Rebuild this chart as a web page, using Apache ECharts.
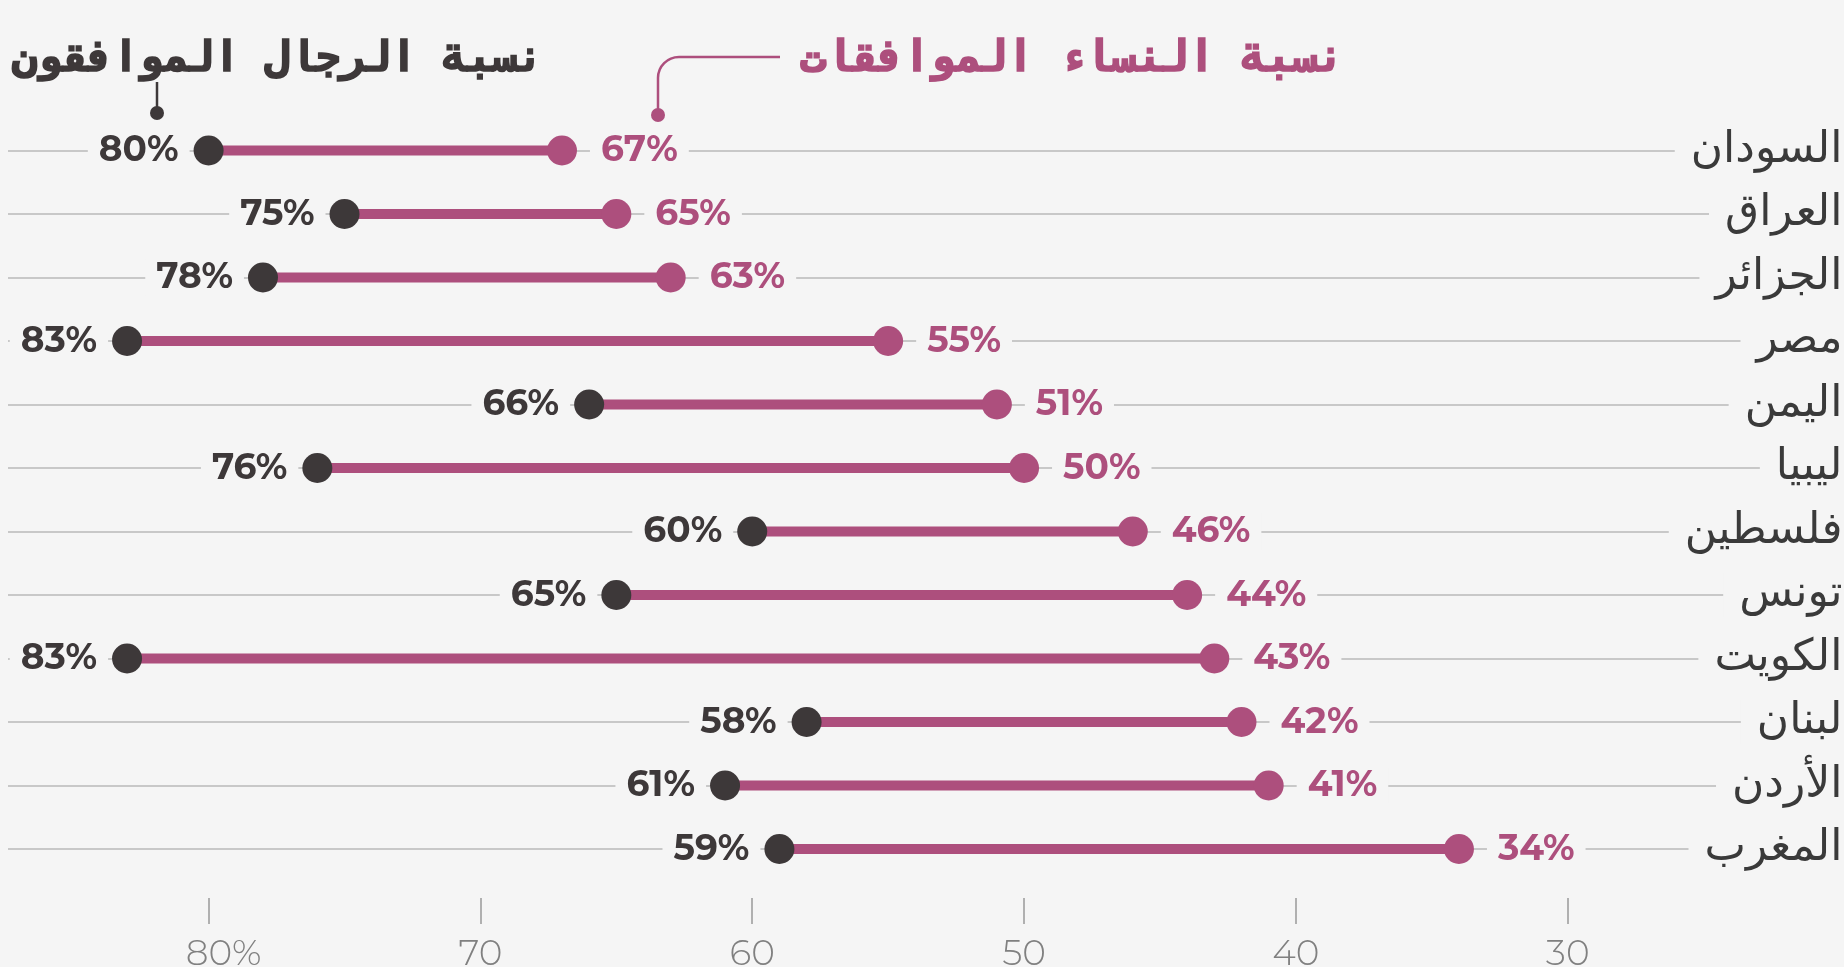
<!DOCTYPE html>
<html>
<head>
<meta charset="utf-8">
<script src="https://cdn.jsdelivr.net/npm/echarts@6/dist/echarts.min.js"></script>
<style>
  html, body { margin: 0; padding: 0; background: #f5f5f5; }
  #chart { width: 1844px; height: 967px; }
</style>
</head>
<body>
<div id="chart"></div>
<script>
// البيانات
const countries = ['السودان', 'العراق', 'الجزائر', 'مصر', 'اليمن', 'ليبيا', 'فلسطين', 'تونس', 'الكويت', 'لبنان', 'الأردن', 'المغرب'];
const menValues = [80, 75, 78, 83, 66, 76, 60, 65, 83, 58, 61, 59];
const womenValues = [67, 65, 63, 55, 51, 50, 46, 44, 43, 42, 41, 34];
const xTicks = [80, 70, 60, 50, 40, 30];
const menTitle = 'نسبة الرجال الموافقون';
const womenTitle = 'نسبة النساء الموافقات';

const PINK = '#ad4f7d';
const DARK = '#3d3839';
const BG = '#f5f5f5';
const numFont = 'Montserrat, "DejaVu Sans", sans-serif';
const titleFont = '"DejaVu Sans Mono", "DejaVu Sans", monospace';

let myChart = echarts.init(document.getElementById('chart'));

myChart.setOption({
  backgroundColor: BG,
  animation: false,
  grid: {
    left: 8,
    right: 4.5,
    top: 150.5,
    bottom: 118,
    outerBoundsMode: 'none'
  },
  xAxis: {
    type: 'value',
    inverse: true,
    min: 20,
    max: 87.38,
    offset: 49,
    axisLine: { show: false },
    splitLine: { show: false },
    axisTick: {
      show: true,
      customValues: xTicks,
      length: 26,
      lineStyle: { color: '#999', width: 1.5 }
    },
    axisLabel: {
      customValues: xTicks,
      margin: 38,
      color: '#808080',
      fontSize: 36,
      fontWeight: 300,
      fontFamily: numFont,
      formatter: v => (v === 80 ? '{p|80%}' : String(v)),
      rich: {
        p: {
          padding: [0, 0, 0, 30],
          color: '#808080',
          fontSize: 36,
          fontWeight: 300,
          fontFamily: numFont
        }
      }
    }
  },
  yAxis: {
    type: 'category',
    data: countries,
    inverse: true,
    boundaryGap: false,
    position: 'right',
    axisLine: { show: false },
    axisTick: { show: false },
    splitLine: {
      show: true,
      interval: 0,
      lineStyle: { color: '#c8c8c8', width: 2 }
    },
    axisLabel: {
      inside: true,
      interval: 0,
      margin: -3,
      color: '#3a3a3a',
      fontSize: 44,
      fontFamily: '"DejaVu Sans", sans-serif',
      backgroundColor: BG,
      padding: [0, 0, 0, 16]
    }
  },
  series: [
    {
      name: 'الفرق',
      type: 'custom',
      silent: true,
      z: 2,
      encode: { x: [0, 1], y: 2 },
      data: countries.map((c, i) => [womenValues[i], menValues[i], i]),
      renderItem: function (params, api) {
        const p1 = api.coord([api.value(0), api.value(2)]);
        const p2 = api.coord([api.value(1), api.value(2)]);
        return {
          type: 'line',
          shape: { x1: p1[0], y1: p1[1], x2: p2[0], y2: p2[1] },
          style: { stroke: PINK, lineWidth: 10 }
        };
      }
    },
    {
      name: 'نسبة النساء الموافقات',
      type: 'scatter',
      silent: true,
      z: 3,
      symbolSize: 30,
      itemStyle: { color: PINK, opacity: 1 },
      data: countries.map((c, i) => [womenValues[i], c]),
      label: {
        show: true,
        position: 'right',
        distance: 13,
        formatter: p => p.value[0] + '%',
        color: PINK,
        fontSize: 36,
        fontWeight: 'bold',
        fontFamily: numFont,
        backgroundColor: BG,
        padding: [0, 11]
      }
    },
    {
      name: 'نسبة الرجال الموافقون',
      type: 'scatter',
      silent: true,
      z: 4,
      symbolSize: 30,
      itemStyle: { color: DARK, opacity: 1 },
      data: countries.map((c, i) => [menValues[i], c]),
      label: {
        show: true,
        position: 'left',
        distance: 4,
        formatter: p => p.value[0] + '%',
        color: DARK,
        fontSize: 36,
        fontWeight: 'bold',
        fontFamily: numFont,
        backgroundColor: BG,
        padding: [0, 11]
      }
    }
  ],
  graphic: [
    // عنوان الرجال
    {
      type: 'text',
      x: 543,
      y: 60,
      style: {
        text: menTitle,
        align: 'right',
        verticalAlign: 'middle',
        fill: DARK,
        stroke: DARK,
        lineWidth: 1.6,
        font: 'bold 42px ' + titleFont
      }
    },
    {
      type: 'line',
      shape: { x1: 157, y1: 82, x2: 157, y2: 113 },
      style: { stroke: DARK, lineWidth: 2.5 }
    },
    {
      type: 'circle',
      shape: { cx: 157, cy: 113, r: 7 },
      style: { fill: DARK }
    },
    // عنوان النساء
    {
      type: 'text',
      x: 1344,
      y: 60,
      style: {
        text: womenTitle,
        align: 'right',
        verticalAlign: 'middle',
        fill: PINK,
        stroke: PINK,
        lineWidth: 1.6,
        font: 'bold 43px ' + titleFont
      }
    },
    {
      type: 'line',
      shape: { x1: 780, y1: 57, x2: 679, y2: 57 },
      style: { stroke: PINK, lineWidth: 2.5 }
    },
    {
      type: 'arc',
      shape: { cx: 679, cy: 78, r: 21, startAngle: Math.PI, endAngle: Math.PI * 1.5, clockwise: true },
      style: { stroke: PINK, lineWidth: 2.5, fill: null }
    },
    {
      type: 'line',
      shape: { x1: 658, y1: 78, x2: 658, y2: 115 },
      style: { stroke: PINK, lineWidth: 2.5 }
    },
    {
      type: 'circle',
      shape: { cx: 658, cy: 115, r: 7 },
      style: { fill: PINK }
    }
  ]
});
</script>
</body>
</html>
